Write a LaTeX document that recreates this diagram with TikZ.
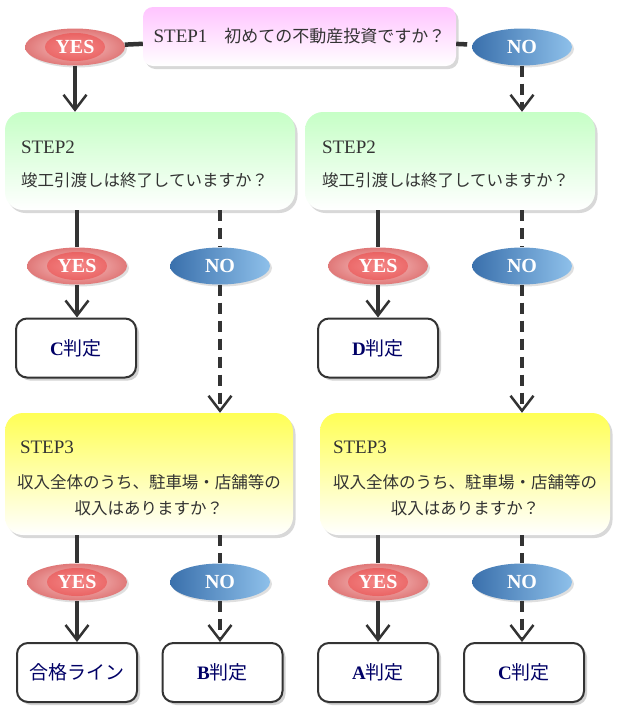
\documentclass[tikz,border=0pt]{standalone}
\usepackage{fontspec}
\setmainfont{Liberation Serif}
\newfontfamily\jpfont{Noto Sans CJK JP}
\usetikzlibrary{arrows.meta,calc,positioning,shapes.geometric,shadows,fadings}
\definecolor{FCInk}{HTML}{333333}
\definecolor{FCNavy}{HTML}{000066}
\definecolor{FCPink}{HTML}{FFC4FF}
\definecolor{FCGreen}{HTML}{C6FFC6}
\definecolor{FCYellow}{HTML}{FFFF55}
\definecolor{FCYesIn}{HTML}{F8C6C6}
\definecolor{FCYesOut}{HTML}{E07878}
\definecolor{FCYesGlow}{HTML}{F02828}
\definecolor{FCNoDark}{HTML}{3A70AC}
\definecolor{FCNoLight}{HTML}{8EC0EA}
\tikzset{
  qbox/.style={rounded corners=18pt, inner sep=0pt, bottom color=white,
    drop shadow={shadow xshift=2.5pt, shadow yshift=-3pt, opacity=0.3}},
  qtitle/.style={inner sep=0pt, anchor=west, text=FCInk,
    font=\fontsize{19}{20}\selectfont},
  qtext/.style={inner sep=0pt, text=FCInk, font=\jpfont\fontsize{16.5}{26}\selectfont},
  yesoval/.style={ellipse, minimum width=100pt, minimum height=37pt, inner sep=0pt,
    inner color=FCYesIn, outer color=FCYesOut, text=white,
    drop shadow={shadow xshift=2pt, shadow yshift=-2pt, opacity=0.25},
    path picture={\fill[FCYesGlow, opacity=0.4, path fading=circle with fuzzy edge 15 percent]
      (path picture bounding box.center) ellipse (30pt and 14pt);},
    font=\fontsize{20}{20}\selectfont\bfseries},
  nooval/.style={ellipse, minimum width=100pt, minimum height=37pt, inner sep=0pt,
    left color=FCNoDark, right color=FCNoLight, text=white,
    drop shadow={shadow xshift=2pt, shadow yshift=-2pt, opacity=0.25},
    font=\fontsize{20}{20}\selectfont\bfseries},
  resultbox/.style={draw=FCInk, line width=2pt, rounded corners=11pt, fill=white,
    minimum width=120pt, minimum height=59pt, text=FCNavy,
    font=\fontsize{19}{20}\selectfont\bfseries,
    drop shadow={shadow xshift=3pt, shadow yshift=-3pt, opacity=0.35}},
  yesline/.style={draw=FCInk, line width=4.5pt},
  noline/.style={yesline, dash pattern=on 11pt off 7pt},
  flowarrow/.style={-{Straight Barb[length=15pt,width=23pt,line width=2.5pt]}}
}
\newcommand{\yesmark}[2]{%
  \node[yesoval] (#1) at (#2) {YES};
}
\newcommand{\nomark}[2]{%
  \node[nooval] (#1) at (#2) {NO};
}
\newcommand{\judge}[1]{{\jpfont\mdseries #1}}

\begin{document}
\begin{tikzpicture}[x=1pt,y=-1pt]
  \path[fill=white, use as bounding box] (0,0) rectangle (617,713);

  % step 1
  \node[qbox, top color=FCPink, rounded corners=10pt, minimum width=313pt,
    minimum height=59pt, text=FCInk] (step1) at (299.5,36.5)
    {\fontsize{19}{20}\selectfont STEP1{\jpfont\fontsize{17}{20}\selectfont 　初めての不動産投資ですか？}};
  \yesmark{yes1}{75,47}
  \nomark{no1}{522,47}
  \draw[yesline] (yes1) -- (step1);
  \draw[noline] (step1) -- (no1);

  % step 2
  \node[qbox, top color=FCGreen, minimum width=290pt, minimum height=98pt] (step2L) at (150,161) {};
  \node[qbox, top color=FCGreen, minimum width=290pt, minimum height=98pt] (step2R) at (450,161) {};
  \node[qtitle] (t2L) at ($(step2L.north west)+(16,35)$) {STEP2};
  \node[qtext, anchor=west] (q2L) at ($(step2L.north west)+(16,68)$) {竣工引渡しは終了していますか？};
  \node[qtitle] (t2R) at ($(step2R.north west)+(17,35)$) {STEP2};
  \node[qtext, anchor=west] (q2R) at ($(step2R.north west)+(17,68)$) {竣工引渡しは終了していますか？};
  \draw[yesline, flowarrow] (yes1.south) -- (yes1.south |- step2L.north);
  \draw[noline, flowarrow] (no1.south) -- (no1.south |- step2R.north);

  \yesmark{yes2L}{77,266}
  \nomark{no2L}{220,266}
  \yesmark{yes2R}{378,266}
  \nomark{no2R}{522,266}
  \node[resultbox] (resC1) at (76,348) {C\judge{判定}};
  \node[resultbox] (resD) at (378,348) {D\judge{判定}};

  % step 3
  \node[qbox, top color=FCYellow, minimum width=288pt, minimum height=122pt] (step3L) at (149,474) {};
  \node[qbox, top color=FCYellow, minimum width=290pt, minimum height=122pt] (step3R) at (465,474) {};
  \node[qtitle] (t3L) at ($(step3L.north west)+(15,34)$) {STEP3};
  \node[qtext, align=center] (q3L) at ($(step3L.north)+(0,82)$) {収入全体のうち、駐車場・店舗等の\\収入はありますか？};
  \node[qtitle] (t3R) at ($(step3R.north west)+(13,34)$) {STEP3};
  \node[qtext, align=center] (q3R) at ($(step3R.north)+(0,82)$) {収入全体のうち、駐車場・店舗等の\\収入はありますか？};

  \draw[yesline] (yes2L.north |- step2L.south) -- (yes2L);
  \draw[yesline, flowarrow] (yes2L.south) -- (yes2L.south |- resC1.north);
  \draw[noline] (no2L.north |- step2L.south) -- (no2L);
  \draw[noline, flowarrow] (no2L.south) -- (no2L.south |- step3L.north);
  \draw[yesline] (yes2R.north |- step2R.south) -- (yes2R);
  \draw[yesline, flowarrow] (yes2R.south) -- (yes2R.south |- resD.north);
  \draw[noline] (no2R.north |- step2R.south) -- (no2R);
  \draw[noline, flowarrow] (no2R.south) -- (no2R.south |- step3R.north);

  \yesmark{yes3L}{77,582}
  \nomark{no3L}{220,582}
  \yesmark{yes3R}{378,582}
  \nomark{no3R}{522,582}
  \node[resultbox] (resPass) at (77,672.5) {\judge{合格ライン}};
  \node[resultbox] (resB) at (222.5,672.5) {B\judge{判定}};
  \node[resultbox] (resA) at (378,672.5) {A\judge{判定}};
  \node[resultbox] (resC2) at (524,672.5) {C\judge{判定}};

  \draw[yesline] (yes3L.north |- step3L.south) -- (yes3L);
  \draw[yesline, flowarrow] (yes3L.south) -- (yes3L.south |- resPass.north);
  \draw[noline] (no3L.north |- step3L.south) -- (no3L);
  \draw[noline, flowarrow] (no3L.south) -- (no3L.south |- resB.north);
  \draw[yesline] (yes3R.north |- step3R.south) -- (yes3R);
  \draw[yesline, flowarrow] (yes3R.south) -- (yes3R.south |- resA.north);
  \draw[noline] (no3R.north |- step3R.south) -- (no3R);
  \draw[noline, flowarrow] (no3R.south) -- (no3R.south |- resC2.north);
\end{tikzpicture}
\end{document}
